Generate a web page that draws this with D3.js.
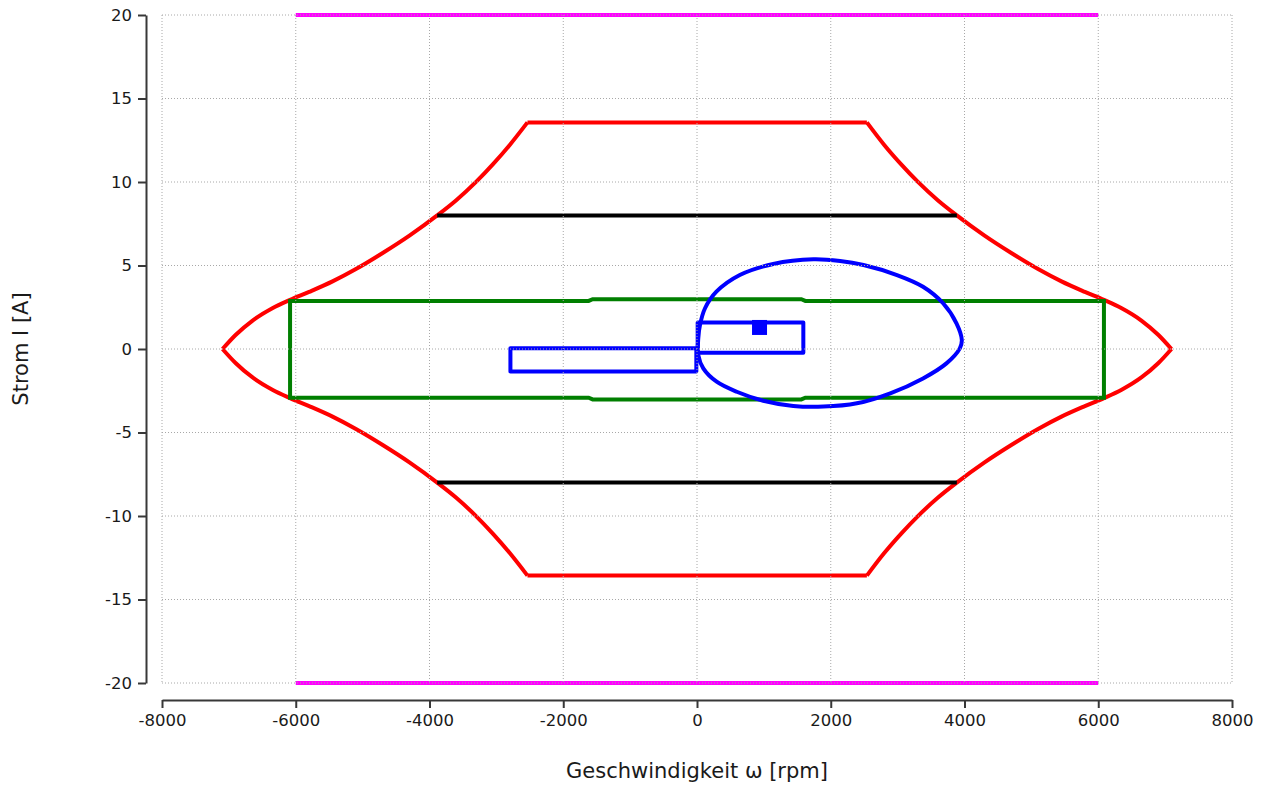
<!DOCTYPE html>
<html>
<head>
<meta charset="utf-8">
<script src="https://cdn.jsdelivr.net/npm/d3@7"></script>
<style>
  body { margin: 0; background: #fff; }
  svg { display: block; }
  text { font-family: "DejaVu Sans", Verdana, sans-serif; }
</style>
</head>
<body>
<svg id="chart" width="1264" height="789"></svg>
<script>
// Axis ticks
const xTicks = [-8000, -6000, -4000, -2000, 0, 2000, 4000, 6000, 8000];
const yTicks = [-20, -15, -10, -5, 0, 5, 10, 15, 20];

// Maximum current limits (magenta), drawn at +/- 20 A between +/- 6000 rpm
const limitSpeed = [-6000, 6000];
const limitCurrent = [20, -20];

// Rated current lines (black)
const ratedSpeed = [-3885, 3885];
const ratedCurrent = [8, -8];

// Operating envelope (red): four flanks (speed ascending) plus the flat peak-current segments
const upperLeftSpeed = [-7095, -6900, -6650, -6350, -6085, -5800, -5450, -5100, -4700, -4300, -3885, -3600, -3300, -3050, -2800, -2535];
const upperLeftCurrent = [0, 0.84, 1.69, 2.44, 2.94, 3.42, 4.05, 4.79, 5.75, 6.79, 8.0, 8.91, 10.02, 11.07, 12.22, 13.57];
const upperRightSpeed = [2540, 2800, 3050, 3300, 3600, 3885, 4300, 4700, 5100, 5450, 5800, 6085, 6350, 6650, 6900, 7095];
const upperRightCurrent = [13.57, 12.22, 11.07, 10.02, 8.91, 8.0, 6.79, 5.75, 4.79, 4.05, 3.42, 2.94, 2.44, 1.69, 0.84, 0];
const lowerRightSpeed = [2540, 2800, 3050, 3300, 3600, 3885, 4300, 4700, 5100, 5450, 5800, 6085, 6350, 6650, 6900, 7095];
const lowerRightCurrent = [-13.57, -12.22, -11.07, -10.02, -8.91, -8.0, -6.79, -5.75, -4.79, -4.05, -3.42, -2.94, -2.44, -1.69, -0.84, 0];
const lowerLeftSpeed = [-7095, -6900, -6650, -6350, -6085, -5800, -5450, -5100, -4700, -4300, -3885, -3600, -3300, -3050, -2800, -2535];
const lowerLeftCurrent = [0, -0.84, -1.69, -2.44, -2.94, -3.42, -4.05, -4.79, -5.75, -6.79, -8.0, -8.91, -10.02, -11.07, -12.22, -13.57];
const peakSpeed = [-2535, 2540];
const peakCurrent = [13.57, -13.57];

// Continuous operation region (green)
const contSpeed = [-6085, -1620, -1560, 1560, 1620, 6085, 6085, 1620, 1560, -1560, -1620, -6085];
const contCurrent = [2.88, 2.88, 2.98, 2.98, 2.88, 2.88, -2.92, -2.92, -3.02, -3.02, -2.92, -2.92];

// Load cycle trajectory (blue)
const cycleLeftSpeed = [-2790, -10, -10, -2790];
const cycleLeftCurrent = [0.04, 0.04, -1.34, -1.34];
const cycleRightSpeed = [10, 1590, 1590, 10];
const cycleRightCurrent = [1.58, 1.58, -0.22, -0.22];
const loopSpeed = [1740, 1140, 640, 290, 120, 45, 19, 19, 94, 294, 594, 990, 1440, 1890,
  2390, 2890, 3380, 3730, 3930, 3960, 3880, 3680, 3380, 2990, 2490, 2140];
const loopCurrent = [5.37, 5.09, 4.43, 3.43, 2.44, 1.44, 0.64, -0.36, -1.16, -1.96, -2.56, -3.1, -3.41, -3.45,
  -3.25, -2.65, -1.76, -0.86, 0.04, 0.54, 1.54, 2.74, 3.73, 4.43, 5.03, 5.27];

// Effective operating point
const pointSpeed = [935];
const pointCurrent = [1.29];

const svg = d3.select("#chart");
const x = d3.scaleLinear().domain([-8000, 8000]).range([162, 1232]);
const y = d3.scaleLinear().domain([-20, 20]).range([683, 15]);

const zip = (xs, ys) => xs.map((v, i) => [v, ys[i]]);
const line = d3.line().x(d => x(d[0])).y(d => y(d[1]));
const flank = d3.line().x(d => x(d[0])).y(d => y(d[1])).curve(d3.curveMonotoneX);
const closedLine = d3.line().x(d => x(d[0])).y(d => y(d[1])).curve(d3.curveLinearClosed);
const smoothLoop = d3.line().x(d => x(d[0])).y(d => y(d[1])).curve(d3.curveCatmullRomClosed.alpha(0.5));

const plot = svg.append("g").attr("fill", "none").attr("stroke-width", 4);

// magenta limits
limitCurrent.forEach(c => {
  plot.append("path")
    .attr("d", line(limitSpeed.map(s => [s, c])))
    .attr("stroke", "#ff00ff");
});

// red envelope
const red = plot.append("g").attr("stroke", "#ff0000").attr("stroke-linejoin", "round");
[[upperLeftSpeed, upperLeftCurrent], [upperRightSpeed, upperRightCurrent],
 [lowerRightSpeed, lowerRightCurrent], [lowerLeftSpeed, lowerLeftCurrent]].forEach(([s, c]) => {
  red.append("path").attr("d", flank(zip(s, c)));
});
peakCurrent.forEach(c => {
  red.append("path").attr("d", line(peakSpeed.map(s => [s, c])));
});

// black rated lines
ratedCurrent.forEach(c => {
  plot.append("path")
    .attr("d", line(ratedSpeed.map(s => [s, c])))
    .attr("stroke", "#000000");
});

// green continuous region
plot.append("path")
  .attr("d", closedLine(zip(contSpeed, contCurrent)))
  .attr("stroke", "#007f00");

// blue load cycle
plot.append("path")
  .attr("d", smoothLoop(zip(loopSpeed, loopCurrent)))
  .attr("stroke", "#0000ff");
plot.append("path")
  .attr("d", closedLine(zip(cycleLeftSpeed, cycleLeftCurrent)))
  .attr("stroke", "#0000ff")
  .attr("stroke-linejoin", "round");
plot.append("path")
  .attr("d", closedLine(zip(cycleRightSpeed, cycleRightCurrent)))
  .attr("stroke", "#0000ff")
  .attr("stroke-linejoin", "round");

// operating point marker
svg.append("g").selectAll("rect")
  .data(zip(pointSpeed, pointCurrent))
  .join("rect")
  .attr("x", d => x(d[0]) - 7.5)
  .attr("y", d => y(d[1]) - 7.5)
  .attr("width", 15)
  .attr("height", 15)
  .attr("fill", "#0000ff");

// dotted grid on top of the curves
const grid = svg.append("g")
  .attr("stroke", "#a8a8a8")
  .attr("stroke-width", 1)
  .attr("stroke-dasharray", "1,2");
grid.selectAll("line.v")
  .data(xTicks)
  .join("line")
  .attr("class", "v")
  .attr("x1", d => x(d)).attr("x2", d => x(d))
  .attr("y1", y(20)).attr("y2", y(-20));
grid.selectAll("line.h")
  .data(yTicks)
  .join("line")
  .attr("class", "h")
  .attr("x1", x(-8000)).attr("x2", x(8000))
  .attr("y1", d => y(d)).attr("y2", d => y(d));

// axes
const fmt = d => String(d);
const yAxis = svg.append("g")
  .attr("transform", "translate(146,0)")
  .call(d3.axisLeft(y).tickValues(yTicks).tickFormat(fmt).tickSize(8).tickSizeOuter(0).tickPadding(6));
const xAxis = svg.append("g")
  .attr("transform", "translate(0,700)")
  .call(d3.axisBottom(x).tickValues(xTicks).tickFormat(fmt).tickSize(8).tickSizeOuter(0).tickPadding(6));

[yAxis, xAxis].forEach(g => {
  g.selectAll(".domain, .tick line")
    .attr("stroke", "#383838")
    .attr("stroke-width", 2);
  g.selectAll("text")
    .attr("fill", "#1a1a1a")
    .style("font-family", "'DejaVu Sans', Verdana, sans-serif")
    .style("font-size", "16.5px");
});

// axis titles
svg.append("text")
  .attr("x", 697)
  .attr("y", 778)
  .attr("text-anchor", "middle")
  .attr("fill", "#1a1a1a")
  .style("font-size", "21px")
  .text("Geschwindigkeit ω [rpm]");

svg.append("text")
  .attr("transform", "translate(28,349) rotate(-90)")
  .attr("text-anchor", "middle")
  .attr("fill", "#1a1a1a")
  .style("font-size", "21px")
  .text("Strom I [A]");
</script>
</body>
</html>
